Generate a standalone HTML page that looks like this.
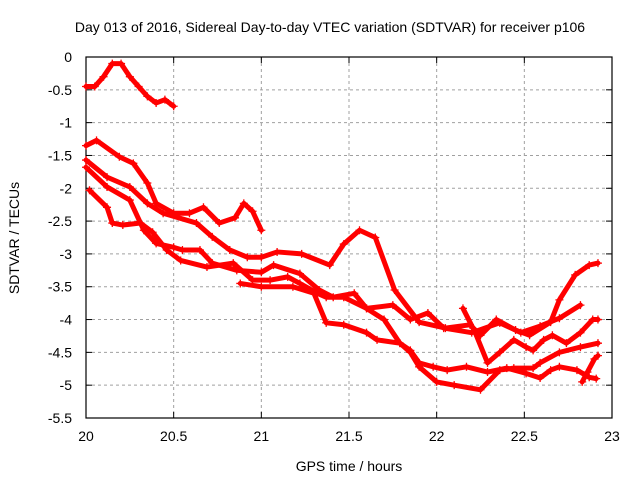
<!DOCTYPE html>
<html><head><meta charset="utf-8"><style>
body{margin:0;background:#fff;}
svg{display:block;font-family:"Liberation Sans",sans-serif;}
</style></head><body>
<svg id="chart" width="640" height="480" viewBox="0 0 640 480">
<rect width="640" height="480" fill="#fff"/>
<text x="330" y="32" font-size="14" text-anchor="middle">Day 013 of 2016, Sidereal Day-to-day VTEC variation (SDTVAR) for receiver p106</text>
<text x="349" y="471" font-size="14" text-anchor="middle">GPS time / hours</text>
<text x="0" y="0" font-size="14" text-anchor="middle" transform="translate(19,238) rotate(-90)">SDTVAR / TECUs</text>
<g id="grid"></g>
<g id="axes"></g>
<g id="series"></g>
</svg>
<script>
const xTicks=[20,20.5,21,21.5,22,22.5,23];
const xTickLabels=["20","20.5","21","21.5","22","22.5","23"];
const yTicks=[0,-0.5,-1,-1.5,-2,-2.5,-3,-3.5,-4,-4.5,-5,-5.5];
const yTickLabels=["0","-0.5","-1","-1.5","-2","-2.5","-3","-3.5","-4","-4.5","-5","-5.5"];
const seriesA=[[20.0,-0.45],[20.05,-0.45],[20.1,-0.3],[20.15,-0.1],[20.2,-0.1],[20.25,-0.3],[20.3,-0.45],[20.35,-0.6],[20.4,-0.7],[20.45,-0.65],[20.5,-0.75]];
const seriesB=[[20.0,-1.35],[20.06,-1.27],[20.19,-1.52],[20.27,-1.62],[20.35,-1.92],[20.4,-2.23],[20.5,-2.38],[20.59,-2.38],[20.67,-2.29],[20.76,-2.53],[20.85,-2.45],[20.9,-2.23],[20.95,-2.35],[21.0,-2.64]];
const seriesC=[[20.0,-1.57],[20.12,-1.83],[20.25,-1.98],[20.35,-2.23],[20.44,-2.38],[20.63,-2.53],[20.72,-2.74],[20.82,-2.94],[20.92,-3.05],[21.0,-3.05],[21.09,-2.97],[21.23,-3.0],[21.39,-3.17],[21.47,-2.85],[21.56,-2.64],[21.65,-2.75],[21.76,-3.55],[21.9,-4.04],[22.05,-4.13],[22.19,-4.08],[22.25,-4.24],[22.34,-4.0],[22.45,-4.16],[22.53,-4.24],[22.65,-4.04],[22.7,-3.7],[22.79,-3.32],[22.87,-3.17],[22.92,-3.14]];
const seriesD=[[20.0,-1.68],[20.12,-1.98],[20.25,-2.18],[20.33,-2.64],[20.4,-2.84],[20.5,-2.9],[20.55,-2.94],[20.65,-2.94],[20.72,-3.14],[20.86,-3.25],[21.0,-3.28],[21.07,-3.17],[21.22,-3.3],[21.33,-3.55],[21.41,-3.66],[21.53,-3.6],[21.6,-3.83],[21.75,-3.78],[21.85,-4.0],[21.95,-3.9],[22.04,-4.13],[22.2,-4.2],[22.36,-4.05],[22.48,-4.2],[22.59,-4.1],[22.7,-3.98],[22.82,-3.78]];
const seriesE=[[20.02,-2.03],[20.12,-2.29],[20.15,-2.53],[20.21,-2.56],[20.31,-2.53],[20.38,-2.67],[20.46,-2.94],[20.54,-3.1],[20.69,-3.2],[20.84,-3.14],[20.95,-3.4],[21.05,-3.4],[21.15,-3.35],[21.22,-3.45],[21.32,-3.6],[21.37,-3.66],[21.47,-3.66],[21.6,-3.83],[21.7,-4.0],[21.79,-4.36],[21.85,-4.47],[21.9,-4.66],[21.98,-4.72],[22.06,-4.77],[22.17,-4.72],[22.29,-4.8],[22.4,-4.74],[22.51,-4.82],[22.59,-4.89],[22.65,-4.77],[22.7,-4.72],[22.8,-4.77],[22.87,-4.88],[22.91,-4.9]];
const seriesF=[[20.88,-3.45],[21.0,-3.5],[21.18,-3.5],[21.3,-3.6],[21.37,-4.05],[21.47,-4.08],[21.6,-4.2],[21.66,-4.31],[21.79,-4.36],[21.85,-4.5],[21.9,-4.72],[22.0,-4.95],[22.1,-5.0],[22.25,-5.07],[22.36,-4.77],[22.44,-4.74],[22.55,-4.74],[22.59,-4.66],[22.7,-4.5],[22.82,-4.42],[22.92,-4.36]];
const seriesG=[[22.15,-3.83],[22.22,-4.2],[22.29,-4.66],[22.36,-4.5],[22.44,-4.31],[22.51,-4.42],[22.55,-4.47],[22.61,-4.31],[22.66,-4.24],[22.74,-4.36],[22.82,-4.2],[22.89,-4.0],[22.92,-4.0]];
const seriesH=[[22.83,-4.95],[22.86,-4.8],[22.9,-4.6],[22.92,-4.55]];
const allSeries=[seriesA,seriesB,seriesC,seriesD,seriesE,seriesF,seriesG,seriesH];
const L=86,R=612,T=57,B=418;
const xs=v=>L+(v-20)/3*(R-L);
const ys=v=>T+(0-v)/5.5*(B-T);
const NS="http://www.w3.org/2000/svg";
function mk(tag,attrs,parent){const e=document.createElementNS(NS,tag);for(const k in attrs)e.setAttribute(k,attrs[k]);parent.appendChild(e);return e;}
const grid=document.getElementById('grid'),axes=document.getElementById('axes'),ser=document.getElementById('series');
xTicks.forEach((t,i)=>{const x=xs(t);
 if(i>0&&i<xTicks.length-1){const g=mk('line',{x1:x,y1:T,x2:x,y2:B,stroke:'#a0a0a0','stroke-dasharray':'3,3'},grid);
 
 }
 mk('line',{x1:x,y1:B,x2:x,y2:B-6,stroke:'#000'},axes);
 mk('line',{x1:x,y1:T,x2:x,y2:T+6,stroke:'#000'},axes);
 const tx=mk('text',{x:x,y:B+23,'font-size':14,'text-anchor':'middle'},axes);tx.textContent=xTickLabels[i];
 
 
});
yTicks.forEach((t,i)=>{const y=ys(t);
 if(i>0&&i<yTicks.length-1){const g=mk('line',{x1:L,y1:y,x2:R,y2:y,stroke:'#a0a0a0','stroke-dasharray':'3,3'},grid);
 
 }
 mk('line',{x1:L,y1:y,x2:L+6,y2:y,stroke:'#000'},axes);
 mk('line',{x1:R,y1:y,x2:R-6,y2:y,stroke:'#000'},axes);
 const tx=mk('text',{x:L-14,y:y+5,'font-size':14,'text-anchor':'end'},axes);tx.textContent=yTickLabels[i];
 
 
});
const fr=mk('rect',{x:L,y:T,width:R-L,height:B-T,fill:'none',stroke:'#000','stroke-width':1.2},axes);


allSeries.forEach((s,si)=>{
 const pl=mk('polyline',{points:s.map(p=>xs(p[0])+','+ys(p[1])).join(' '),fill:'none',stroke:'#ff0000','stroke-width':5,'stroke-linejoin':'round','stroke-linecap':'round'},ser);
 
 
 s.forEach(p=>{const x=xs(p[0]),y=ys(p[1]);
  const m=mk('path',{d:`M${x-4},${y}H${x+4}M${x},${y-4}V${y+4}`,stroke:'#ff0000','stroke-width':1.3},ser);
  
  
 });
});
</script>
</body></html>
